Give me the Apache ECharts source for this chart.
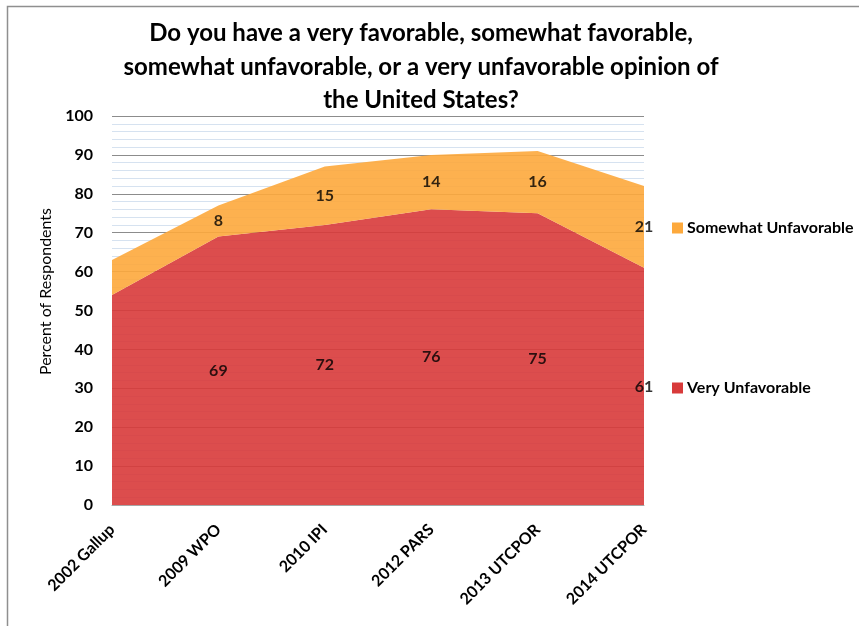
<!DOCTYPE html>
<html>
<head>
<meta charset="utf-8">
<script src="https://cdn.jsdelivr.net/npm/echarts@6/dist/echarts.min.js"></script>
<style>html,body{margin:0;padding:0;background:#fff;}#c{width:859px;height:626px;}</style>
</head>
<body>
<div id="c"></div>
<script>
var categories = ['2002 Gallup', '2009 WPO', '2010 IPI', '2012 PARS', '2013 UTCPOR', '2014 UTCPOR'];
var veryUnfavorable = [54, 69, 72, 76, 75, 61];
var somewhatUnfavorable = [9, 8, 15, 14, 16, 21];
var yTicks = [0, 10, 20, 30, 40, 50, 60, 70, 80, 90, 100];

var FONT = 'Lato, "Open Sans", sans-serif';
var RED = '#d83a3a';
var ORANGE = '#fda93c';

function midLabels(base, vals) {
  var out = [];
  for (var i = 1; i < vals.length; i++) {
    out.push([i, base[i] + vals[i] / 2, vals[i]]);
  }
  return out;
}
var zeros = veryUnfavorable.map(function () { return 0; });

var chart = echarts.init(document.getElementById('c'), null, { renderer: 'canvas' });
chart.setOption({
  backgroundColor: '#fff',
  animation: false,
  title: {
    text: 'Do you have a very favorable, somewhat favorable,\nsomewhat unfavorable, or a very unfavorable opinion of\nthe United States?',
    left: 416, top: 12, textAlign: 'center',
    textStyle: { fontFamily: FONT, fontWeight: 'bold', fontSize: 24, lineHeight: 33.5, color: '#000' }
  },
  graphic: [{
    type: 'rect', shape: { x: 7.5, y: 6.5, width: 900, height: 700 },
    style: { fill: 'none', stroke: '#8f8f8f', lineWidth: 1.5 }, silent: true
  }],
  legend: [
    { data: ['Somewhat Unfavorable'], left: 672, top: 220, padding: 0, itemGap: 4, orient: 'vertical', icon: 'rect', itemWidth: 11, itemHeight: 11,
      textStyle: { fontFamily: FONT, fontWeight: 'bold', fontSize: 16, color: '#000', padding: [0, 0, 0, -1] } },
    { data: ['Very Unfavorable'], left: 672, top: 380, padding: 0, itemGap: 4, orient: 'vertical', icon: 'rect', itemWidth: 11, itemHeight: 11,
      textStyle: { fontFamily: FONT, fontWeight: 'bold', fontSize: 16, color: '#000', padding: [0, 0, 0, -1] } }
  ],
  grid: { left: 112, right: 215, top: 116, bottom: 121 },
  xAxis: {
    type: 'category', data: categories, boundaryGap: false,
    axisLine: { show: true, lineStyle: { color: '#a6a6a6', width: 1 } },
    axisTick: { show: false },
    axisLabel: { rotate: 45, margin: 22, fontFamily: FONT, fontWeight: 'bold', fontSize: 16, color: '#000', interval: 0 }
  },
  yAxis: {
    type: 'value', min: yTicks[0], max: yTicks[yTicks.length - 1], interval: 10,
    name: 'Percent of Respondents', nameLocation: 'middle', nameGap: 49, nameRotate: 90,
    nameTextStyle: { fontFamily: FONT, fontSize: 16, color: '#000', padding: [0, 0, 0, 38] },
    axisLine: { show: false }, axisTick: { show: false },
    axisLabel: { margin: 19, fontFamily: FONT, fontWeight: 'bold', fontSize: 16, color: '#000' },
    splitLine: { show: true, lineStyle: { color: '#8c8c8c', width: 1 } },
    minorTick: { show: false, splitNumber: 5 },
    minorSplitLine: { show: true, lineStyle: { color: '#d6e2f0', width: 1 } }
  },
  series: [
    { name: 'Very Unfavorable', type: 'line', stack: 'total', data: veryUnfavorable, symbol: 'none',
      color: RED, lineStyle: { width: 0 }, areaStyle: { color: RED, opacity: 0.9 }, z: 2 },
    { name: 'Somewhat Unfavorable', type: 'line', stack: 'total', data: somewhatUnfavorable, symbol: 'none',
      color: ORANGE, lineStyle: { width: 0 }, areaStyle: { color: ORANGE, opacity: 0.9 }, z: 2 },
    { type: 'scatter', symbolSize: 0, silent: true, z: 5, data: midLabels(zeros, veryUnfavorable),
      label: { show: true, position: 'inside', formatter: function (p) { return p.value[2]; },
        fontFamily: FONT, fontWeight: 'bold', fontSize: 16, color: '#000' } },
    { type: 'scatter', symbolSize: 0, silent: true, z: 5, data: midLabels(veryUnfavorable, somewhatUnfavorable),
      label: { show: true, position: 'inside', formatter: function (p) { return p.value[2]; },
        fontFamily: FONT, fontWeight: 'bold', fontSize: 16, color: '#000' } }
  ]
});
</script>
</body>
</html>
